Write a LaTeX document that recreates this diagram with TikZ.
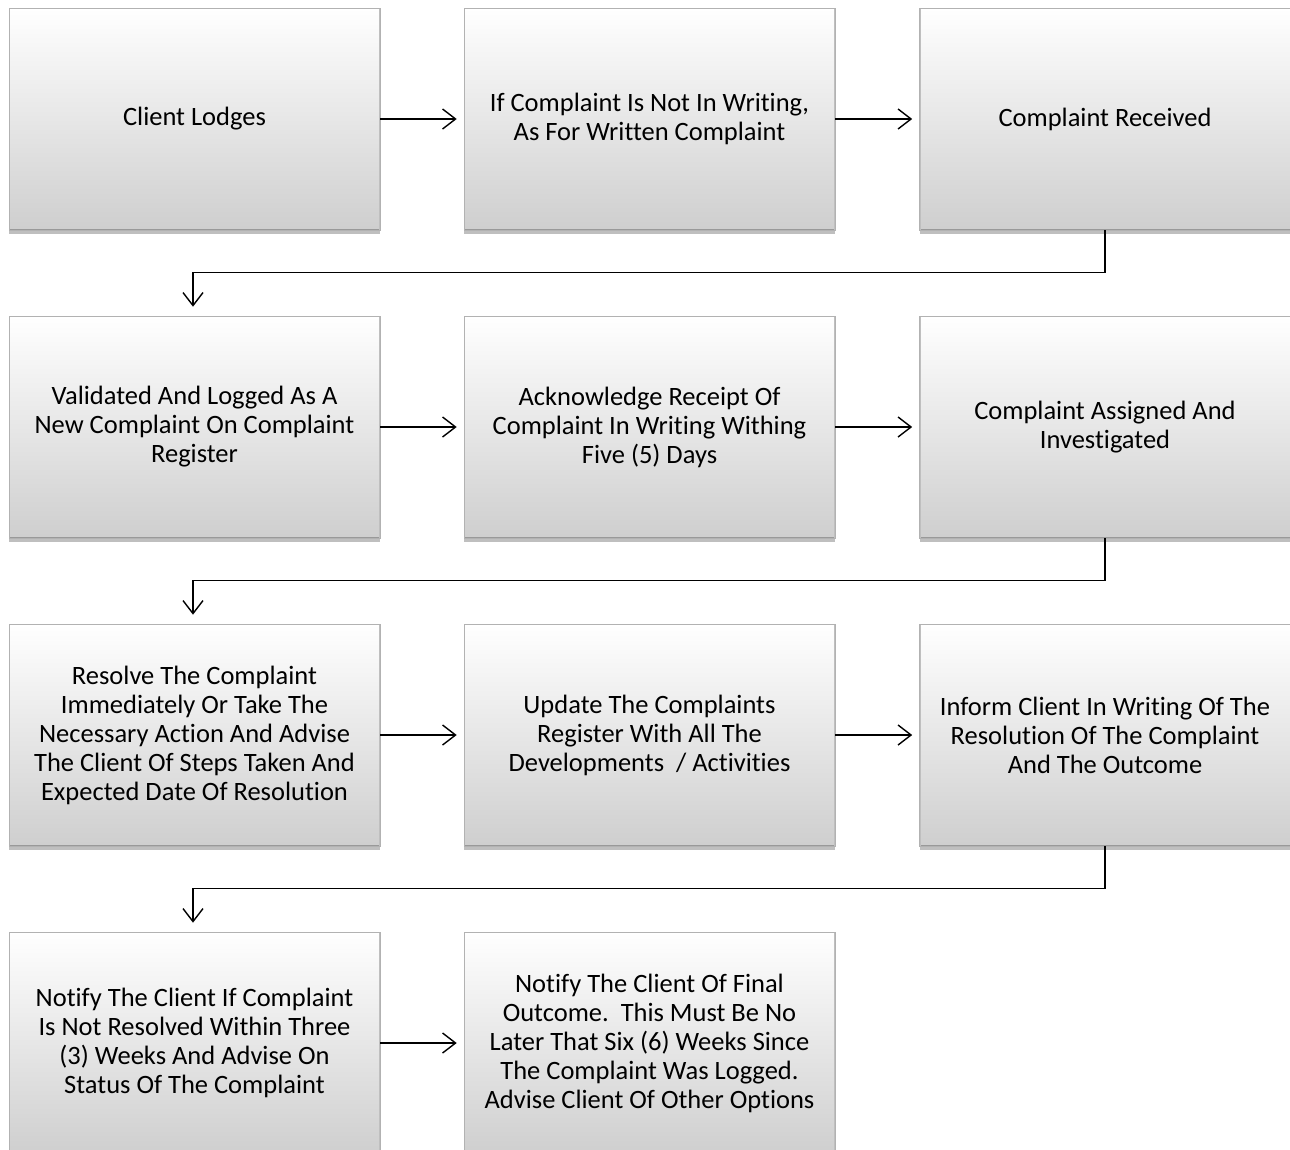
\documentclass[tikz,border=0pt]{standalone}
\usepackage{fontspec}
\setmainfont{Carlito}[Ligatures=NoCommon]
\usetikzlibrary{arrows.meta,shadows}
\newcommand{\boxfont}{\fontsize{26.5}{29}\selectfont}
\begin{document}
\begin{tikzpicture}[x=1pt,y=-1pt,
  stepbox/.style={minimum width=371pt, minimum height=222pt, inner sep=0pt,
    top color=white, bottom color=black!19, draw=black!30, line width=0.6pt,
    drop shadow={shadow xshift=0pt, shadow yshift=-4pt, opacity=0.25, fill=black},
    align=center, font=\boxfont,
    path picture={
      \draw[black!40, line width=3pt] (path picture bounding box.south west) -- (path picture bounding box.south east);
      \draw[black!25, line width=2pt] (path picture bounding box.south west) -- (path picture bounding box.north west);
      \draw[black!25, line width=2pt] (path picture bounding box.south east) -- (path picture bounding box.north east);
    }},
  flow/.style={draw=black, line width=1.4pt, -{Straight Barb[length=13pt, width=20pt, line width=1.4pt]}}
]
\useasboundingbox (0,0) rectangle (1290,1149);

\node[stepbox] (a1) at (194.5,119) {Client Lodges};
\node[stepbox] (a2) at (649.5,119) {If Complaint Is Not In Writing,\\As For Written Complaint};
\node[stepbox] (a3) at (1105,119) {Complaint Received};

\node[stepbox] (b1) at (194.5,427) {Validated And Logged As A\\New Complaint On Complaint\\Register};
\node[stepbox] (b2) at (649.5,427) {Acknowledge Receipt Of\\Complaint In Writing Withing\\Five (5) Days};
\node[stepbox] (b3) at (1105,427) {Complaint Assigned And\\Investigated};

\node[stepbox] (c1) at (194.5,735) {Resolve The Complaint\\Immediately Or Take The\\Necessary Action And Advise\\The Client Of Steps Taken And\\Expected Date Of Resolution};
\node[stepbox] (c2) at (649.5,735) {Update The Complaints\\Register With All The\\Developments\ \ / Activities};
\node[stepbox] (c3) at (1105,735) {Inform Client In Writing Of The\\Resolution Of The Complaint\\And The Outcome};

\node[stepbox] (d1) at (194.5,1043) {Notify The Client If Complaint\\Is Not Resolved Within Three\\(3) Weeks And Advise On\\Status Of The Complaint};
\node[stepbox] (d2) at (649.5,1043) {Notify The Client Of Final\\Outcome.\ \ This Must Be No\\Later That Six (6) Weeks Since\\The Complaint Was Logged.\\Advise Client Of Other Options};

\draw[flow] (a1.east) -- ([xshift=-7pt]a2.west);
\draw[flow] (a2.east) -- ([xshift=-7pt]a3.west);
\draw[flow] (b1.east) -- ([xshift=-7pt]b2.west);
\draw[flow] (b2.east) -- ([xshift=-7pt]b3.west);
\draw[flow] (c1.east) -- ([xshift=-7pt]c2.west);
\draw[flow] (c2.east) -- ([xshift=-7pt]c3.west);
\draw[flow] (d1.east) -- ([xshift=-7pt]d2.west);

\draw[flow] (a3.south) -- ++(0,42) -| ([xshift=-1.5pt,yshift=9pt]b1.north);
\draw[flow] (b3.south) -- ++(0,42) -| ([xshift=-1.5pt,yshift=9pt]c1.north);
\draw[flow] (c3.south) -- ++(0,42) -| ([xshift=-1.5pt,yshift=9pt]d1.north);
\end{tikzpicture}
\end{document}
